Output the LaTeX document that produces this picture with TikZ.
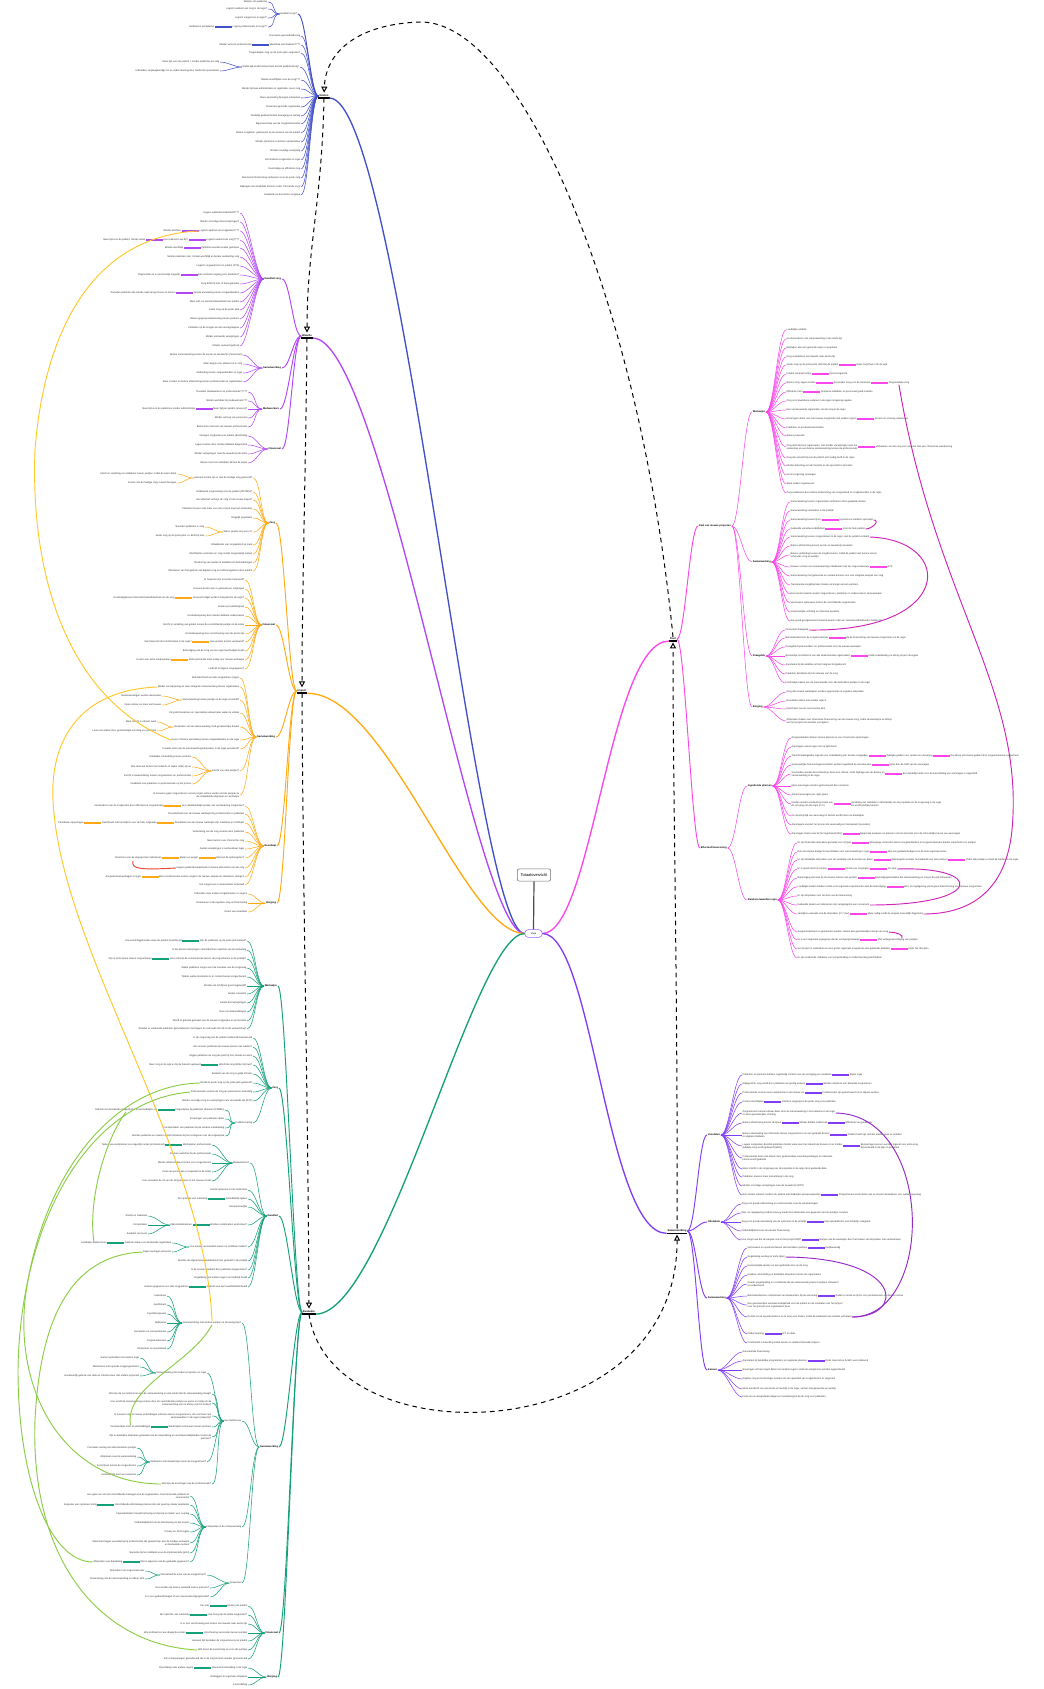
\documentclass[tikz,border=0pt]{standalone}
\usepackage{fontspec}
\setmainfont{Liberation Sans}
\usetikzlibrary{arrows.meta}
\definecolor{cBlue}{RGB}{66,80,200}
\definecolor{cViol}{RGB}{180,70,245}
\definecolor{cOra}{RGB}{255,170,20}
\definecolor{cGrn}{RGB}{20,160,120}
\definecolor{cPink}{RGB}{250,70,235}
\definecolor{cPurp}{RGB}{130,60,245}
\definecolor{rPink}{RGB}{205,35,185}
\definecolor{rPurp}{RGB}{150,40,200}
\definecolor{rYel}{RGB}{255,200,40}
\definecolor{rLgr}{RGB}{140,205,70}
\definecolor{rRed}{RGB}{230,70,50}
\newcommand\fLeaf{\fontsize{1.85pt}{2.3pt}\selectfont}
\newcommand\fSub{\bfseries\fontsize{1.9pt}{2.3pt}\selectfont}
\newcommand\fMain{\bfseries\fontsize{2pt}{2.4pt}\selectfont}
\newcommand\fTitle{\fontsize{3pt}{3.6pt}\selectfont}
\newcommand\cnL[3]{\draw[#1] (#2) .. controls +(-8,0) and +(8,0) .. (#3);}
\newcommand\cnR[3]{\draw[#1] (#2) .. controls +(8,0) and +(-8,0) .. (#3);}
\newcommand\brL[4]{\node[lfL] (#3) at ([xshift=-12.75pt]#2.west) {#4};\draw[#1,line width=0.9pt] (#2.west) -- (#3.east);}
\newcommand\brR[4]{\node[lfR] (#3) at ([xshift=12.75pt]#2.east) {#4};\draw[#1,line width=0.9pt] (#2.east) -- (#3.west);}
\newcommand\mUL[1]{\draw[line width=1.2pt] (#1.south west) -- (#1.south east);}
\begin{document}
\begin{tikzpicture}[x=0.75pt,y=-0.75pt,
 lf/.style={font=\fLeaf, text=black!80, inner sep=0.5pt, outer sep=0pt},
 lfL/.style={lf, anchor=east, align=right},
 lfR/.style={lf, anchor=west, align=left},
 sb/.style={font=\fSub, text=black, inner sep=0.5pt},
 sbL/.style={sb, anchor=east, align=right},
 sbR/.style={sb, anchor=west, align=left},
 mn/.style={font=\fMain, text=black, inner sep=0.6pt},
 cB/.style={draw=cBlue, line width=0.4pt}, scB/.style={draw=cBlue, line width=0.7pt}, mcB/.style={draw=cBlue, line width=1pt},
 cV/.style={draw=cViol, line width=0.4pt}, scV/.style={draw=cViol, line width=0.7pt}, mcV/.style={draw=cViol, line width=1pt},
 cO/.style={draw=cOra, line width=0.4pt}, scO/.style={draw=cOra, line width=0.7pt}, mcO/.style={draw=cOra, line width=1pt},
 cG/.style={draw=cGrn, line width=0.4pt}, scG/.style={draw=cGrn, line width=0.7pt}, mcG/.style={draw=cGrn, line width=1pt},
 cP/.style={draw=cPink, line width=0.4pt}, scP/.style={draw=cPink, line width=0.7pt}, mcP/.style={draw=cPink, line width=1pt},
 cU/.style={draw=cPurp, line width=0.4pt}, scU/.style={draw=cPurp, line width=0.7pt}, mcU/.style={draw=cPurp, line width=1pt},
 rel/.style={line width=0.7pt},
 dsh/.style={draw=black, line width=0.75pt, dash pattern=on 3.5pt off 3pt, -{Triangle[open,length=4.5pt,width=4.5pt]}, shorten >=1pt}
]
\fill[white] (0,0) rectangle (1044,1689);
\useasboundingbox (0,0) rectangle (1044,1689);

% ---------------- centre ----------------
\node[draw=black!55, rounded corners=1.5pt, fill=white, inner xsep=2.5pt, inner ysep=3.5pt, font=\fTitle] (tt) at (534,875) {Totaaloverzicht};
\node[draw=cPurp!80, rounded corners=2.5pt, fill=white, font=\fLeaf, inner xsep=4.5pt, inner ysep=2.2pt] (cn) at (533.5,933.5) {Visie};
\draw[black!70, line width=0.9pt] (tt.south) -- (cn.north);

% main nodes
\node[mn] (mB) at (324,96) {Doelen};
\node[mn] (mV) at (307,336) {Waarde};
\node[mn] (mO) at (302,691) {Impact};
\node[mn] (mG) at (309,1312) {Evaluatie};
\node[mn] (mP) at (673,639) {Doel};
\node[mn] (mU) at (677,1231) {Samenwerking};
\mUL{mB}\mUL{mV}\mUL{mO}\mUL{mG}\mUL{mP}\mUL{mU}

\draw[mcB] (cn.west) .. controls +(-50,0) and +(70,0) .. (mB.south east);
\draw[mcV] (cn.west) .. controls +(-50,0) and +(70,0) .. (mV.south east);
\draw[mcO] (cn.west) .. controls +(-60,0) and +(80,0) .. (mO.south east);
\draw[mcG] (cn.west) .. controls +(-50,0) and +(70,0) .. (mG.south east);
\draw[mcP] (cn.east) .. controls +(50,0) and +(-60,0) .. (mP.south west);
\draw[mcU] (cn.east) .. controls +(50,0) and +(-60,0) .. (mU.south west);

% dashed cycle
\draw[dsh] (mP.north) .. controls (640,300) and (520,20) .. (420,22) .. controls (360,24) and (326,50) .. (mB.north);
\draw[dsh] (mB.south) .. controls (322,200) and (307,250) .. (mV.north);
\draw[dsh] (mV.south) .. controls (306,450) and (302,600) .. (mO.north);
\draw[dsh] (mO.south) .. controls (303,900) and (308,1100) .. (mG.north);
\draw[dsh] (mG.south) .. controls (330,1460) and (678,1450) .. (mU.south);
\draw[dsh] (mU.north) .. controls (678,1000) and (673,800) .. (mP.south);

% ================= BLUE =================
\node[lfL] (bK) at (298,14) {Kwaliteit zorg?*};
\cnL{scB}{mB.west}{bK.east}
\foreach \yy/\lbl in {2/{Welzijn van patiënten},9/{Logisch aanbod van zorg in de regio?},18/{Logisch zorgproces in regio?*},27/{Logica professionals en zorg?**}}{\node[lfL] (bk\yy) at (268,\yy) {\lbl};\cnL{cB}{bK.west}{bk\yy.east}}
\brL{cB}{bk27}{bk27c}{Verbeteren werkplezier}
\foreach \yy/\lbl in {36/{Duurzame gezondheidszorg},45/{Werkdruk verminderen????},53/{Toegankelijke zorg op de juiste plek vergroten?},80/{Minder wachttijden voor de zorg???},89/{Minder tijd aan administratie en registratie, meer zorg},98/{Meer aansluiting bij eigen netwerken},107/{Financieel gezonde organisatie},116/{Duidelijk gedeeld beleid, beweging en sturing},124/{Eigenaarschap van de zorgprofessionals},133/{Betere zorgketen, gebaseerd op de wensen van de patiënt},142/{Minder opnames en kortere opnameduur},151/{Minder onnodige verwijzing},160/{Verminderen zorgkosten in regio},169/{Doelmatige en efficiënte zorg},178/{Structurele financiering verbeteren voor de juiste zorg},187/{Bijdragen aan landelijke thema's zoals 'Passende zorg'},195/{Gedeelde en duurzame zorgvisie}}{\node[lfL] (b\yy) at (301,\yy) {\lbl};\cnL{cB}{mB.west}{b\yy.east}}
\brL{cB}{b45}{b45c}{Minder verzuim professionals}
\node[lfL] (bT) at (300,67) {Welke tijd wordt besteed aan directe patiëntenzorg?};
\cnL{cB}{mB.west}{bT.east}
\foreach \yy/\lbl in {62/{Meer tijd voor de patiënt = minder patiënten per dag},71/{Uitbreiden verpleegkundige rol en ondersteuning door medische specialisten}}{\node[lfL] (bt\yy) at (220,\yy) {\lbl};\cnL{cB}{bT.west}{bt\yy.east}}

% ================= VIOLET =================
\node[sbL] (vK) at (282,279) {Kwaliteit zorg};
\node[sbL] (vS) at (282,368) {Samenwerking};
\node[sbL] (vM) at (280,409) {Medewerkers};
\node[sbL] (vF) at (282,449) {Financieel};
\cnL{scV}{mV.west}{vK.east}\cnL{scV}{mV.west}{vS.east}\cnL{scV}{mV.west}{vM.east}\cnL{scV}{mV.west}{vF.east}
\foreach \yy/\lbl in {213/{Hogere patiënttevredenheid????},222/{Minder onnodige doorverwijzingen?},231/{Logisch aanbod van zorgpaden????},240/{Logisch aanbod van zorg????},248/{Patiënten worden sneller geholpen},257/{Sneller patiënten zien, minder wachttijd en betere aansluiting zorg},266/{Logisch zorgaanbod voor patiënt (FTE)},275/{Eén centrale toegang voor patiënten?},284/{Zorg dicht bij huis of thuis geboden},293/{Goede aansluiting tussen zorgaanbieders},302/{Meer zelf- en samenredzaamheid van patiënt},310/{Juiste zorg op de juiste plek},319/{Betere gegevensuitwisseling tussen partners},328/{Patiënten op de hoogte van de vervolgstappen},337/{Minder verkeerde verwijzingen},346/{Minder verkeerd gebruik}}{\node[lfL] (v\yy) at (240,\yy) {\lbl};\cnL{cV}{vK.west}{v\yy.east}}
\brL{cV}{v231}{v231c}{Minder klachten}
\brL{cV}{v240}{v240c}{Hoe realiseren we dit?}
\brL{cV}{v240c}{v240d}{Meer tijd voor de patiënt, minder uitval}
\brL{cV}{v248}{v248c}{Minder wachttijd}
\brL{cV}{v275}{v275c}{Diagnostiek en zo persoonlijk mogelijk}
\brL{cV}{v293}{v293c}{Tevreden patiënten die minder vaak terug hoeven te komen}
\foreach \yy/\lbl in {355/{Betere samenwerking tussen de eerste en tweede lijn (huisartsen)},364/{Meer begrip voor elkaars rol in zorg},373/{Verbinding tussen zorgaanbieders in regio},382/{Meer contact en betere afstemming tussen professionals en organisaties}}{\node[lfL] (vs\yy) at (243,\yy) {\lbl};\cnL{cV}{vS.west}{vs\yy.east}}
\foreach \yy/\lbl in {392/{Tevreden medewerkers en professionals?????},401/{Minder werkdruk bij medewerkers???},409/{Meer tijd per patiënt (ervaren)?},418/{Minder verloop van personeel},427/{Behoud en instroom van nieuwe professionals}}{\node[lfL] (vm\yy) at (248,\yy) {\lbl};\cnL{cV}{vM.west}{vm\yy.east}}
\brL{cV}{vm409}{vm409c}{Meer tijd voor de patiënt en minder administratie}
\foreach \yy/\lbl in {436/{Verlagen zorgkosten per patiënt (doelmatig)},445/{Lagere kosten door minder dubbele diagnostiek},454/{Minder verwijzingen naar de tweede lijn (kosten)},463/{Betere inzet van middelen binnen de keten}}{\node[lfL] (vf\yy) at (248,\yy) {\lbl};\cnL{cV}{vF.west}{vf\yy.east}}

% ================= ORANGE =================
\node[sbL] (oZ) at (276,523) {Zorg};
\node[sbL] (oF) at (276,625) {Financieel};
\node[sbL] (oS) at (276,737) {Samenwerking};
\node[sbL] (oR) at (277,846) {Resultaat};
\node[sbL] (oB) at (277,903) {Borging};
\cnL{scO}{mO.west}{oZ.east}\cnL{scO}{mO.west}{oF.east}\cnL{scO}{mO.west}{oS.east}\cnL{scO}{mO.west}{oR.east}\cnL{scO}{mO.west}{oB.east}
\foreach \yy/\lbl in {492/{Verbeterde zorgervaring voor de patiënt (PROMS)?},500/{Hoe effectief verloopt de zorg in het nieuwe traject?},509/{Patiënten hoeven niet meer voor elk consult naar het ziekenhuis},518/{Vergelijk populaties},545/{Ontwikkelen van zorgaanbod op maat},554/{Wachtlijsten verkorten en zorg sneller toegankelijk maken},563/{Monitoring van aantal en kwaliteit van behandelingen},571/{Stimuleren van het gebruik van digitale zorg en zelfmanagement door patiënt}}{\node[lfL] (oz\yy) at (253,\yy) {\lbl};\cnL{cO}{oZ.west}{oz\yy.east}}
\node[lfL] (oZa) at (253,478) {Hoeveel kosten zijn er met de huidige zorg gemoeid?};
\node[lfL] (oZb) at (253,532) {Wat is goede zorg voor u?};
\cnL{cO}{oZ.west}{oZa.east}\cnL{cO}{oZ.west}{oZb.east}
\foreach \yy/\lbl in {474/{Inzicht in verdeling van middelen tussen partijen, zodat de keten klopt},483/{Kosten van de huidige zorg in kaart brengen}}{\node[lfL] (oa\yy) at (177,\yy) {\lbl};\cnL{cO}{oZa.west}{oa\yy.east}}
\foreach \yy/\lbl in {527/{Tevreden patiënten in zorg},536/{Juiste zorg op de juiste plek, zo dicht bij huis}}{\node[lfL] (ob\yy) at (205,\yy) {\lbl};\cnL{cO}{oZb.west}{ob\yy.east}}
\foreach \yy/\lbl in {580/{In hoeverre zijn er kosten bespaard?},589/{Hoeveel kosten zijn er gemaakt per zorgtraject},598/{Hoeveel budget wordt er bespaard in de regio?},607/{Kosten per patiëntgroep},616/{Kostenbesparing door minder dubbele onderzoeken},625/{Inzicht in verdeling van gelden tussen de verschillende partijen in de keten},634/{Kostenbesparing door verschuiving naar de eerste lijn},642/{Hoe worden kosten verrekend?},651/{Bekostiging van de zorg via een regionaal budget model},660/{Extra personele inzet nodig voor nieuwe werkwijze},669/{Leidt dit tot lagere zorguitgaven?}}{\node[lfL] (of\yy) at (245,\yy) {\lbl};\cnL{cO}{oF.west}{of\yy.east}}
\brL{cO}{of598}{of598c}{Doelmatigheid en financiële betaalbaarheid van de zorg}
\brL{cO}{of642}{of642c}{Wie financiert de transformatie in de regio?}
\brL{cO}{of660}{of660c}{Kosten van extra medewerkers}
\foreach \yy/\lbl in {678/{Betrokkenheid van alle zorgpartners (regio)},687/{Minder versnippering en meer integrale samenwerking tussen organisaties},713/{Zorg dat huisartsen en specialisten elkaar beter weten te vinden},740/{Geen of betere aansluiting tussen zorgaanbieders en de regio},749/{In welke mate zijn de samenwerkingsafspraken in de regio verankerd?},795/{In hoeverre gaan zorgverleners na het project samen verder met de aanpak en\\de ontwikkelde afspraken en werkwijze}}{\node[lfL] (os\yy) at (240,\yy) {\lbl};\cnL{cO}{oS.west}{os\yy.east}}
\node[lfL] (oSa) at (240,700) {Samenwerking tussen partijen in de regio versterkt?};
\node[lfL] (oSb) at (240,727) {Versterken van de samenwerking rond gezamenlijke doelen};
\node[lfL] (oSc) at (240,771) {Inzicht voor alle partijen?};
\cnL{cO}{oS.west}{oSa.east}\cnL{cO}{oS.west}{oSb.east}\cnL{cO}{oS.west}{oSc.east}
\foreach \yy/\lbl in {696/{Samenwerkingen worden duurzamer},705/{Open cultuur en meer vertrouwen}}{\node[lfL] (osa\yy) at (162,\yy) {\lbl};\cnL{cO}{oSa.west}{osa\yy.east}}
\foreach \yy/\lbl in {722/{Meer inzicht in elkaars werk},731/{Leren van elkaar door gezamenlijke scholing en casuïstiek}}{\node[lfL] (osb\yy) at (157,\yy) {\lbl};\cnL{cO}{oSb.west}{osb\yy.east}}
\foreach \yy/\lbl in {757/{Duidelijke rolverdeling tussen partners},767/{Wie doet wat binnen het netwerk en welke rollen zijn er},776/{Inzicht in taakverdeling tussen zorgverleners en professionals},784/{Feedback van patiënten en professionals op het proces}}{\node[lfL] (osc\yy) at (192,\yy) {\lbl};\cnL{cO}{oSc.west}{osc\yy.east}}
\foreach \yy/\lbl in {806/{Is er daadwerkelijk sprake van vermindering zorgkosten?},814/{Tevredenheid over de nieuwe werkwijze bij professionals en patiënten},823/{Resultaten van de nieuwe werkwijze zijn meetbaar en zichtbaar},832/{Verbetering van de zorg ervaren door patiënten},841/{Meer kennis over chronische zorg},849/{Aantal verwijzingen is aantoonbaar lager},858/{Wat zijn de opbrengsten?},868/{Hogere patiënttevredenheid en betere uitkomsten van de zorg},877/{Meer professionals werken volgens de nieuwe aanpak en stimuleren collega's},885/{Het zorgproces is aantoonbaar verbeterd}}{\node[lfL] (or\yy) at (245,\yy) {\lbl};\cnL{cO}{oR.west}{or\yy.east}}
\brL{cO}{or806}{or806c}{Verminderen van de zorgkosten door effectievere zorgverlening}
\brL{cO}{or823}{or823c}{Dashboard met kerncijfers voor de hele zorgketen}
\brL{cO}{or823c}{or823d}{Periodieke rapportages}
\brL{cO}{or858}{or858c}{Meten en wegen}
\brL{cO}{or858c}{or858d}{Monitoren van de afgesproken indicatoren}
\brL{cO}{or877}{or877c}{Aanpak breed gedragen in regio}
\foreach \yy/\lbl in {894/{Uitbreiden naar andere zorgdomeinen en regio's},903/{Verankeren in de reguliere zorg en financiering},912/{Delen van resultaten}}{\node[lfL] (ob2\yy) at (248,\yy) {\lbl};\cnL{cO}{oB.west}{ob2\yy.east}}
\coordinate (rh) at (133,861);
\draw[rel,rRed] (or868.west) .. controls (140,870) and (131,869) .. (rh);

% ================= GREEN =================
\node[sbL] (gW) at (278,986) {Werkwijze};
\node[sbL] (gZ) at (279,1088) {Zorg};
\node[sbL] (gQ) at (279,1216) {Kwaliteit};
\node[sbL] (gS) at (279,1447) {Samenwerking};
\node[sbL] (gF) at (279,1633) {Financieel};
\node[sbL] (gB) at (278,1677) {Borging};
\cnL{scG}{mG.west}{gW.east}\cnL{scG}{mG.west}{gZ.east}\cnL{scG}{mG.west}{gQ.east}\cnL{scG}{mG.west}{gS.east}\cnL{scG}{mG.west}{gF.east}\cnL{scG}{mG.west}{gB.east}
\foreach \yy/\lbl in {941/{Zijn de patiënten op de juiste plek beland?},950/{Is het aantal verwijzingen verminderd ten opzichte van de nulmeting},959/{Hoe verloopt de communicatie tussen de zorgverleners in de praktijk?},968/{Welke patiënten zorgen voor de toename van de zorgvraag},977/{Tijdens welke momenten is er contact tussen zorgverleners},986/{Worden de richtlijnen goed nageleefd?},994/{Aantal consulten},1003/{Aantal doorverwijzingen},1012/{Duur van behandelingen},1021/{Wordt er gebruik gemaakt van de nieuwe zorgpaden en protocollen},1029/{Worden er voldoende patiënten geïncludeerd in het traject en verhoudt zich dit tot de verwachting?}}{\node[lfL] (gw\yy) at (247,\yy) {\lbl};\cnL{cG}{gW.west}{gw\yy.east}}
\brL{cG}{gw941}{gw941c}{Hoe wordt bijgehouden waar de patiënt terechtkomt}
\brL{cG}{gw959}{gw959c}{Zijn er korte lijnen tussen zorgverleners}
\foreach \yy/\lbl in {1038/{Is de zorgvraag van de patiënt voldoende beantwoord},1047/{Hoe ervaren patiënten de nieuwe manier van werken?},1056/{Krijgen patiënten de zorg die past bij hun situatie en wens},1065/{Wordt de zorg dichter bij huis?},1074/{Kwaliteit van de zorg is gelijk of beter},1083/{Wordt de juiste zorg op de juiste plek geleverd?},1092/{Professionals ervaren de zorg als passend en doelmatig},1101/{Minder onnodige zorg en verwijzingen naar de tweede lijn (RTZ)}}{\node[lfL] (gz\yy) at (253,\yy) {\lbl};\cnL{cG}{gZ.west}{gz\yy.east}}
\brL{cG}{gz1065}{gz1065c}{Meer zorg in de wijk en bij de huisarts geleverd}
\node[lfL] (gzP) at (253,1123) {Patiëntervaring};
\cnL{cG}{gZ.west}{gzP.east}
\foreach \yy/\lbl in {1110/{Vragenlijsten bij patiënten afnemen (PREMs)},1119/{Ervaringen van patiënten delen},1128/{Het betrekken van patiënten bij de verdere ontwikkeling},1136/{Worden patiënten en naasten actief betrokken bij het vormgeven van de zorgaanpak}}{\node[lfL] (gp\yy) at (225,\yy) {\lbl};\cnL{cG}{gzP.west}{gp\yy.east}}
\brL{cG}{gp1110}{gp1110c}{Gebruik van bestaande vragenlijsten uit de landelijke set}
\node[lfL] (gqM) at (250,1163) {Medewerkers?};
\cnL{cG}{gQ.west}{gqM.east}
\foreach \yy/\lbl in {1145/{Werkplezier professionals},1154/{Ervaren werkdruk bij de professionals},1163/{Minder administratieve lasten voor zorgverleners},1172/{Inzet van personeel en capaciteit in de keten},1181/{Hoe verandert de rol van de zorgverleners in het nieuwe model}}{\node[lfL] (gm\yy) at (212,\yy) {\lbl};\cnL{cG}{gqM.west}{gm\yy.east}}
\brL{cG}{gm1145}{gm1145c}{Meten van werkplezier via vragenlijst onder professionals}
\foreach \yy/\lbl in {1190/{Aantal opnames in het ziekenhuis},1199/{Gemiddelde ligduur},1207/{Heropnamecijfer},1225/{Worden complicaties voorkomen?},1261/{Worden de afgesproken kwaliteitsnormen gehaald in de praktijk},1270/{Is de ervaren kwaliteit door patiënten toegenomen?},1278/{Vergelijking met andere regio's en landelijk beeld},1287/{Gebruik van een kwaliteitsdashboard}}{\node[lfL] (gq\yy) at (248,\yy) {\lbl};\cnL{cG}{gQ.west}{gq\yy.east}}
\brL{cG}{gq1199}{gq1199c}{Ten opzichte van nulmeting}
\brL{cG}{gq1225}{gq1225c}{Uitkomstindicatoren}
\brL{cG}{gq1287}{gq1287c}{Actuele gegevens voor alle zorgpartners}
\foreach \yy/\lbl in {1216/{Sterfte en ziektelast},1225/{Complicaties},1234/{Kwaliteit van leven}}{\node[lfL] (gu\yy) at (148,\yy) {\lbl};\cnL{cG}{gq1225c.west}{gu\yy.east}}
\node[lfL] (gqH) at (248,1247) {Hoe kunnen we kwaliteit meten en zichtbaar maken?};
\cnL{cG}{gQ.west}{gqH.east}
\foreach \yy/\lbl in {1243/{Gebruik maken van bestaande registraties},1252/{Eigen metingen uitvoeren}}{\node[lfL] (gh\yy) at (172,\yy) {\lbl};\cnL{cG}{gqH.west}{gh\yy.east}}
\brL{cG}{gh1243}{gh1243c}{Landelijke databronnen}
% Samenwerking
\node[lfL] (gsM) at (242,1323) {Samenwerking met andere partijen uit de werkgroep?};
\node[lfL] (gsS) at (242,1421) {Succesfactoren};
\node[lfL] (gsK) at (242,1527) {Knelpunten in de samenwerking};
\node[lfL] (gsF) at (242,1583) {Financieel};
\cnL{cG}{gS.west}{gsM.east}\cnL{cG}{gS.west}{gsS.east}\cnL{cG}{gS.west}{gsK.east}\cnL{cG}{gS.west}{gsF.east}
\foreach \yy/\lbl in {1296/{Huisartsen},1305/{Apothekers},1314/{Fysiotherapeuten},1323/{Wijkteams},1332/{Gemeente en sociaal domein},1341/{Zorgverzekeraars},1349/{Ziekenhuis en specialisten}}{\node[lfL] (ga\yy) at (167,\yy) {\lbl};\cnL{cG}{gsM.west}{ga\yy.east}}
\node[lfL] (gsP) at (207,1373) {Samenwerking met andere projecten en regio};
\node[lfL] (gsV) at (207,1462) {Verbeteren samenwerking tussen de zorgpartners?};
\cnL{cG}{gsS.west}{gsP.east}\cnL{cG}{gsS.west}{gsV.east}
\foreach \yy/\lbl in {1358/{Samen optrekken met andere regio},1367/{Afstemmen met lopende zorgprogramma's},1376/{Gezamenlijk gebruik van data en infrastructuur met andere projecten}}{\node[lfL] (gb\yy) at (140,\yy) {\lbl};\cnL{cG}{gsP.west}{gb\yy.east}}
\foreach \yy/\lbl in {1394/{Wat zijn de succesfactoren van de samenwerking en wat maakt dat de samenwerking slaagt?},1403/{Hoe wordt de samenwerking ervaren door de verschillende partijen en wat is er nodig om de\\samenwerking ook na afloop voort te zetten?},1416/{In hoeverre zijn er nieuwe verbindingen ontstaan tussen zorgverleners, die voorheen niet\\samenwerkten in de regio (netwerk)?},1427/{Wederzijds vertrouwen tussen partners},1437/{Zijn er duidelijke afspraken gemaakt over de rolverdeling en verantwoordelijkheden tussen de\\partners?},1484/{Wat zijn de ervaringen van de professionals?}}{\node[lfL] (gc\yy) at (212,\yy) {\lbl};\cnL{cG}{gsS.west}{gc\yy.east}}
\brL{cG}{gc1427}{gc1427c}{Gezamenlijke visie en doelstellingen}
\foreach \yy/\lbl in {1448/{Periodiek overleg met alle betrokken partijen},1457/{Afspraken over de werkverdeling},1466/{Korte lijnen tussen de zorgverleners},1475/{Gezamenlijk leren en evalueren}}{\node[lfL] (gd\yy) at (137,\yy) {\lbl};\cnL{cG}{gsV.west}{gd\yy.east}}
\foreach \yy/\lbl in {1496/{Hoe gaan we om met verschillende belangen van de organisaties, zoals financiële prikkels en\\concurrentie},1505/{Verschillende informatiesystemen die niet goed op elkaar aansluiten},1514/{Capaciteitstekort maakt het lastig om tijd vrij te maken voor overleg},1523/{Onduidelijkheid over de financiering na het project},1532/{Privacy en AVG-regels},1543/{Weerstand tegen verandering bij professionals die gewend zijn aan de huidige werkwijze\\en bestaande routines},1553/{Beperkte tijd en middelen voor de implementatie (pilot)},1562/{Wie is eigenaar van de gedeelde gegevens?}}{\node[lfL] (ge\yy) at (190,\yy) {\lbl};\cnL{cG}{gsK.west}{ge\yy.east}}
\brL{cG}{ge1505}{ge1505c}{Koppelen van systemen lastig}
\brL{cG}{ge1562}{ge1562c}{Afspraken over datadeling}
\node[lfL] (gsW) at (207,1575) {Wie betaalt de inzet van de zorgpartners?};
\cnL{cG}{gsF.west}{gsW.east}
\foreach \yy/\lbl in {1571/{Afspraken met zorgverzekeraar},1579/{Financiering van de samenwerking na afloop pilot}}{\node[lfL] (gf\yy) at (145,\yy) {\lbl};\cnL{cG}{gsW.west}{gf\yy.east}}
\foreach \yy/\lbl in {1588/{Hoe worden de kosten verdeeld tussen partners?},1597/{Is er een gedeeld budget of een nieuw bekostigingsmodel?}}{\node[lfL] (gg\yy) at (210,\yy) {\lbl};\cnL{cG}{gsF.west}{gg\yy.east}}
\foreach \yy/\lbl in {1606/{Kosten per patiënt},1615/{Hoe hoog zijn de totale zorgkosten?},1624/{Is er een verschuiving van kosten van tweede naar eerste lijn},1633/{Verschuiving van kosten tussen partijen},1641/{Hoeveel tijd besteden de zorgverleners per patiënt},1650/{Wat levert de investering op voor alle partijen},1659/{Zijn er besparingen gerealiseerd die in de zorg kunnen worden geïnvesteerd}}{\node[lfL] (gi\yy) at (248,\yy) {\lbl};\cnL{cG}{gF.west}{gi\yy.east}}
\brL{cG}{gi1606}{gi1606c}{Per jaar}
\brL{cG}{gi1615}{gi1615c}{Ten opzichte van nulmeting}
\brL{cG}{gi1633}{gi1633c}{Wie profiteert en wie draagt de kosten}
\foreach \yy/\lbl in {1668/{Structurele inbedding in de regio},1677/{Vastleggen in regionale afspraken},1685/{Kennisdeling}}{\node[lfL] (gj\yy) at (248,\yy) {\lbl};\cnL{cG}{gB.west}{gj\yy.east}}
\brL{cG}{gj1668}{gj1668c}{Opschaling naar andere regio's}

% ================= PINK =================
\node[sbR] (pD) at (698,526) {Doel van nieuwe projecten};
\node[sbR] (pE) at (700,848) {Effecten/Financiering};
\cnR{scP}{mP.east}{pD.west}\cnR{scP}{mP.east}{pE.west}
\node[sbR] (pW) at (752,412) {Werkwijze};
\node[sbR] (pS) at (752,562) {Samenwerking};
\node[sbR] (pV) at (752,656) {Draagvlak};
\node[sbR] (pB) at (752,707) {Borging};
\cnR{cP}{pD.east}{pW.west}\cnR{cP}{pD.east}{pS.west}\cnR{cP}{pD.east}{pV.west}\cnR{cP}{pD.east}{pB.west}
\foreach \yy/\lbl in {330/{Landelijke ambitie},339/{Het bevorderen van samenwerking in de eerste lijn},348/{Bijdragen aan een gezonde regio en populatie},357/{Zorg verplaatsen van tweede naar eerste lijn},365/{Juiste zorg op de juiste plek, dicht bij de patiënt},374/{Patiënt centraal zetten},383/{Betere zorg, lagere kosten},392/{Efficiënte inzet},401/{Zorg voor kwetsbare ouderen in de eigen omgeving regelen},410/{Een vernieuwende organisatie van de zorg in de regio},419/{Ervaringen delen over het nieuwe zorgmodel met andere regio's},428/{Patiënten en professionals binden},436/{Betere preventie},447/{Zorg dicht bij huis organiseren, met minder verwijzingen naar het\\ziekenhuis en een betere samenwerking tussen de professionals},458/{Zorg die aansluit bij wat de patiënt echt nodig heeft in de regio},466/{Minder belasting van de huisarts en de specialist in de keten},475/{Groei zorgvraag opvangen},484/{Werk anders organiseren},493/{Zorg verbeteren door betere afstemming van zorgaanbod en zorgbehoeften in de regio}}{\node[lfR] (pw\yy) at (786,\yy) {\lbl};\cnR{cP}{pW.east}{pw\yy.west}}
\brR{cP}{pw365}{pw365c}{Meer zorg thuis of in de wijk}
\brR{cP}{pw374}{pw374c}{Persoonsgericht}
\brR{cP}{pw383}{pw383c}{Duurzame zorg voor de toekomst}
\brR{cP}{pw383c}{pw383d}{Toegankelijke zorg}
\brR{cP}{pw392}{pw392c}{Schaarse middelen en personeel goed inzetten}
\brR{cP}{pw419}{pw419c}{Kennis en ervaring uitwisselen}
\brR{cP}{pw447}{pw447c}{Verbeteren van de zorg voor mensen met een chronische aandoening}
\foreach \yy/\lbl in {502/{Samenwerking tussen organisaties verbeteren door gedeelde doelen},511/{Samenwerking versterken in de praktijk},520/{Samenwerking tussen lijnen},529/{Gedeelde verantwoordelijkheid},537/{Samenwerking tussen zorgverleners in de regio, met de patiënt centraal},546/{Betere afstemming tussen eerste en tweede lijn bereiken},555/{Betere verbinding tussen de zorgdomeinen, zodat de patiënt niet tussen wal en\\schip valt, zorg en welzijn},567/{Nieuwe vormen van samenwerking ontwikkelen met de zorgverzekeraar},576/{Samenwerking met gemeente en sociaal domein voor een integrale aanpak van zorg},585/{Transmurale zorgafspraken maken en borgen tussen partners},594/{Een lerend netwerk waarin zorgverleners, patiënten en onderzoekers samenwerken},603/{Vertrouwen opbouwen tussen de verschillende organisaties},612/{Gezamenlijke scholing en intervisie opzetten},621/{Een goed georganiseerd netwerk waarin rollen en verantwoordelijkheden helder zijn}}{\node[lfR] (ps\yy) at (790,\yy) {\lbl};\cnR{cP}{pS.east}{ps\yy.west}}
\brR{cP}{ps520}{ps520c}{Huisarts en medisch specialist}
\brR{cP}{ps529}{ps529c}{Voor de hele patiënt}
\brR{cP}{ps567}{ps567c}{RTZ}
\foreach \yy/\lbl in {630/{Financieel draagvlak},638/{Betrokkenheid van de zorgverzekeraar},647/{Draagvlak bij bestuurders en professionals voor de nieuwe werkwijze},656/{Bestuurlijk commitment van alle deelnemende organisaties},665/{Aansluiten bij de ambities uit het Integraal Zorgakkoord},674/{Patiënten betrekken bij het ontwerp van de zorg},683/{Inzichtelijk maken van de meerwaarde voor alle betrokken partijen in de regio}}{\node[lfR] (pv\yy) at (785,\yy) {\lbl};\cnR{cP}{pV.east}{pv\yy.west}}
\brR{cP}{pv638}{pv638c}{Bij de financiering van nieuwe zorgvormen en de regio}
\brR{cP}{pv656}{pv656c}{Zodat ontwikkeling na afloop project doorgaat}
\foreach \yy/\lbl in {692/{Zorg dat nieuwe werkwijzen worden opgenomen in reguliere afspraken},701/{Resultaten delen met andere regio's},709/{Opschalen na een succesvolle pilot},721/{Afspraken maken over structurele financiering van de nieuwe zorg, zodat de werkwijze na afloop\\van het project kan worden voortgezet}}{\node[lfR] (pb\yy) at (786,\yy) {\lbl};\cnR{cP}{pB.east}{pb\yy.west}}
\node[sbR] (pI) at (747,786) {Ingediende plannen};
\node[sbR] (pR) at (747,900) {Randvoorwaarden regio};
\cnR{cP}{pE.east}{pI.west}\cnR{cP}{pE.east}{pR.west}
\foreach \yy/\lbl in {738/{Zorgaanbieders dienen samen plannen in voor structurele oplossingen},747/{Aanvragen vanuit regio niet op tijd binnen},756/{Transformatiegelden ingezet voor ontwikkeling van nieuwe zorgpaden},765/{Gezamenlijke financieringsvoorstellen worden ingediend bij verzekeraars},774/{Voorstellen worden beoordeeld op basis van criteria, zoals bijdrage aan de doelen en\\samenwerking in de regio},786/{Meer aanvragen worden gehonoreerd dan voorheen},795/{Aantal aanvragen per regio (jaar)},804/{Gelden worden verdeeld op basis van\\de omvang van de regio (n=1)},816/{De doorlooptijd van aanvraag tot besluit wordt korter en duidelijker},825/{Aanvragers ervaren het proces als eenvoudig en transparant (tevreden)},834/{Aanvragen sluiten aan bij het regiobeeld (IZA)}}{\node[lfR] (pi\yy) at (791,\yy) {\lbl};\cnR{cP}{pI.east}{pi\yy.west}}
\brR{cP}{pi756}{pi756c}{Tijdelijke gelden voor opstart en uitvoering}
\brR{cP}{pi756c}{pi756d}{Na afloop structureel gedekt door zorgverzekeraar en partners}
\brR{cP}{pi765}{pi765c}{Meer dan de helft van de aanvragen}
\brR{cP}{pi774}{pi774c}{Een landelijk kader voor de beoordeling van aanvragen is opgesteld}
\brR{cP}{pi804}{pi804c}{Verdeling van middelen is afhankelijk van de populatie en de zorgvraag in de regio\\en wordt jaarlijks herzien}
\brR{cP}{pi834}{pi834c}{Regionale analyses en plannen vormen de basis voor de inhoudelijke keuze van aanvragen}
\foreach \yy/\lbl in {843/{Er zijn financiële afspraken gemaakt voor vijf jaar},852/{Een structureel budget is beschikbaar voor samenwerking in regio},860/{Er zijn duidelijke afspraken over de verdeling van de kosten en baten},869/{Er is goed inzicht in kosten},878/{Bekostiging sluit aan bij de nieuwe manier van werken},887/{Landelijke kaders bieden ruimte voor regionale experimenten met de bekostiging},896/{Er zijn afspraken over de duur van de financiering},905/{Gedeelde doelen en indicatoren zijn vastgelegd in een convenant},914/{Jaarlijkse evaluatie van de afspraken (n=7 jaar)},932/{Zorgverzekeraars en gemeenten werken samen aan gezamenlijke inkoop van zorg},940/{Er is een regionale regiegroep die de voortgang bewaakt},949/{Het project is onderdeel van een groter regionaal programma met gedeelde ambities},958/{Er zijn voldoende middelen voor projectleiding en ondersteuning beschikbaar}}{\node[lfR] (pr\yy) at (797,\yy) {\lbl};\cnR{cP}{pR.east}{pr\yy.west}}
\brR{cP}{pr843}{pr843c}{Meerjarige contracten tussen zorgaanbieders en zorgverzekeraars bieden zekerheid voor partijen}
\brR{cP}{pr852}{pr852c}{Met een gedeeld budget voor de hele regionale keten}
\brR{cP}{pr860}{pr860c}{Opbrengsten worden herverdeeld over alle partners}
\brR{cP}{pr860c}{pr860d}{Zodat alle partijen er baat bij hebben in de regio}
\brR{cP}{pr869}{pr869c}{Kosten per zorgtraject}
\brR{cP}{pr869c}{pr869d}{Per jaar}
\brR{cP}{pr878}{pr878c}{Bekostigingsmodellen die samenwerking en zorg in de wijk stimuleren}
\brR{cP}{pr887}{pr887c}{Wet- en regelgeving vormt geen belemmering voor nieuwe zorgvormen}
\brR{cP}{pr914}{pr914c}{Waar nodig wordt de aanpak tussentijds bijgesteld}
\brR{cP}{pr940}{pr940c}{Met vertegenwoordiging van partijen}
\brR{cP}{pr949}{pr949c}{Zoals het IZA-plan}
% pink relationships
\draw[rel,rPink] (pw383d.south) .. controls (935,600) and (1025,690) .. (1012,830) .. controls (1005,900) and (960,914) .. (pr914c.east);
\draw[rel,rPink] (ps537.east) .. controls (955,540) and (955,632) .. (pv630.east);
\draw[rel,rPink] (ps520c.east) .. controls +(7,0) and +(7,0) .. (ps529c.east);
\draw[rel,rPink] (pr869d.east) .. controls (985,866) and (985,905) .. (pr905.east);
\coordinate (h932) at (902,938);
\draw[rel,rPink] (pr932.east) .. controls +(7,0) and +(2,-3) .. (h932);

% ================= PURPLE =================
\node[sbR] (uV) at (707,1135) {Voordelen};
\node[sbR] (uO) at (707,1222) {Obstakels};
\node[sbR] (uS) at (707,1298) {Samenwerking};
\node[sbR] (uK) at (707,1370) {Kansen};
\cnR{scU}{mU.east}{uV.west}\cnR{scU}{mU.east}{uO.west}\cnR{scU}{mU.east}{uS.west}\cnR{scU}{mU.east}{uK.west}
\foreach \yy/\lbl in {1075/{Patiënten en partners hebben regelmatig contact over de voortgang en resultaten},1084/{Wijkgerichte zorg wordt door patiënten als prettig ervaren},1093/{Professionals ervaren meer werkplezier in de nieuwe rol},1102/{Kortere wachttijden},1113/{Zorgverleners kennen elkaar beter door de samenwerking in het netwerk en de regio\\en door gezamenlijke scholing},1123/{Betere afstemming tussen de lijnen},1135/{Betere uitwisseling van informatie tussen zorgverleners via een gedeeld dossier\\en digitale middelen},1146/{Lagere zorgkosten doordat patiënten minder vaak naar het ziekenhuis hoeven en er minder\\dubbele zorg wordt geleverd (MDO)},1158/{Professionals leren van elkaar door gezamenlijke casusbesprekingen en intervisie,\\kennis wordt gedeeld},1169/{Meer inzicht in de zorgvraag van de populatie in de regio door gedeelde data},1177/{Patiënten ervaren meer samenhang in de zorg},1186/{Minder onnodige verwijzingen naar de tweede lijn (RTZ)},1195/{Een sterker netwerk rondom de patiënt met duidelijke aanspreekpunten}}{\node[lfR] (uv\yy) at (742,\yy) {\lbl};\cnR{cU}{uV.east}{uv\yy.west}}
\brR{cU}{uv1075}{uv1075c}{Eigen regie}
\brR{cU}{uv1084}{uv1084c}{Minder reistijd en een bekende zorgverlener}
\brR{cU}{uv1093}{uv1093c}{Professionals zijn gemotiveerd om te blijven werken}
\brR{cU}{uv1102}{uv1102c}{Snellere toegang tot de juiste zorg voor patiënten}
\brR{cU}{uv1123}{uv1123c}{Minder dubbel onderzoek}
\brR{cU}{uv1123c}{uv1123d}{Efficiënter en goedkoper}
\brR{cU}{uv1135}{uv1135c}{Patiënt hoeft zijn verhaal minder vaak te vertellen}
\brR{cU}{uv1146}{uv1146c}{Besparingen kunnen worden ingezet voor extra zorg,\\bijvoorbeeld in de wijk en preventie}
\brR{cU}{uv1195}{uv1195c}{Zorgverleners weten beter wie ze moeten benaderen voor welke zorgvraag}
\foreach \yy/\lbl in {1204/{Zorg voor goede afstemming en communicatie over de veranderingen},1213/{Wet- en regelgeving rondom privacy maakt het uitwisselen van gegevens tussen partijen complex},1222/{Zorg voor goede aansluiting van de systemen in de praktijk},1231/{Onduidelijkheid over structurele financiering},1240/{Hoe zorgen we dat de aanpak ook na het project blijft?}}{\node[lfR] (uo\yy) at (741,\yy) {\lbl};\cnR{cU}{uO.east}{uo\yy.west}}
\brR{cU}{uo1222}{uo1222c}{Interoperabiliteit is een landelijk vraagstuk}
\brR{cU}{uo1240}{uo1240c}{Borgen van de werkwijze door het maken van afspraken met verzekeraars}
\foreach \yy/\lbl in {1248/{Vertrouwen en openheid tussen alle betrokken partijen},1257/{Regelmatig overleg en korte lijnen},1266/{Gezamenlijke doelen en een gedeelde visie op de zorg},1275/{Heldere rolverdeling en duidelijke afspraken tussen de organisaties},1284/{Goede projectleiding en coördinatie die de samenwerking tussen partijen stimuleert\\en ondersteunt},1296/{Betrokkenheid en commitment van bestuurders bij de uitvoering},1305/{Een gezamenlijke verantwoordelijkheid voor de patiënt en de resultaten van het project\\over de grenzen van organisaties heen},1317/{Ruimte om te experimenteren en te leren van fouten, zodat de werkwijze kan worden verbeterd},1334/{Ondersteuning},1343/{Continuïteit in bezetting zodat kennis en relaties behouden blijven}}{\node[lfR] (us\yy) at (747,\yy) {\lbl};\cnR{cU}{uS.east}{us\yy.west}}
\brR{cU}{us1248}{us1248c}{Gelijkwaardig}
\brR{cU}{us1296}{us1296c}{Zodat er ruimte en tijd is voor professionals om deel te nemen}
\brR{cU}{us1334}{us1334c}{ICT en data}
\foreach \yy/\lbl in {1352/{Aanvullende financiering},1361/{Aansluiten bij landelijke programma's en regionale plannen},1370/{Ervaringen uit het project delen met andere regio's zodat de aanpak kan worden opgeschaald},1379/{Digitale zorg en technologie inzetten om de capaciteit van zorgverleners te vergroten},1389/{Meer aandacht voor preventie en leefstijl in de regio, samen met gemeente en welzijn},1397/{Inzet van ervaringsdeskundigen en mantelzorgers bij de zorg voor patiënten}}{\node[lfR] (uk\yy) at (742,\yy) {\lbl};\cnR{cU}{uK.east}{uk\yy.west}}
\brR{cU}{uk1361}{uk1361c}{Zoals Gezond en Actief Leven Akkoord}
% purple relationships
\draw[rel,rPurp] (uv1113.east) .. controls (935,1115) and (935,1317) .. (us1317.east);
\draw[rel,rPurp] (us1257.east) .. controls (905,1258) and (905,1317) .. (us1317.east);

% ================= left relationships =================
\draw[rel,rYel] (v231.west) .. controls (100,235) and (45,320) .. (35,450) .. controls (30,580) and (70,700) .. (os740.west);
\draw[rel,rYel] (os687.west) .. controls (80,690) and (50,740) .. (53,800) .. controls (60,950) and (205,1150) .. (gsM.north);
\draw[rel,rLgr] (gz1083.west) .. controls (110,1085) and (40,1180) .. (25,1300) .. controls (15,1400) and (70,1484) .. (gc1484.west);
\draw[rel,rLgr] (gz1092.west) .. controls (90,1100) and (20,1220) .. (18,1370) .. controls (18,1480) and (50,1562) .. (ge1562c.west);
\draw[rel,rLgr] (gp1110c.south) .. controls (105,1140) and (88,1200) .. (gh1243c.north);
\draw[rel,rLgr] (gh1252.west) .. controls (70,1255) and (40,1320) .. (35,1420) .. controls (30,1560) and (100,1645) .. (gi1650.west);
\draw[rel,rLgr] (gsM.south) .. controls (190,1365) and (125,1385) .. (gc1427c.north);
\end{tikzpicture}
\end{document}
